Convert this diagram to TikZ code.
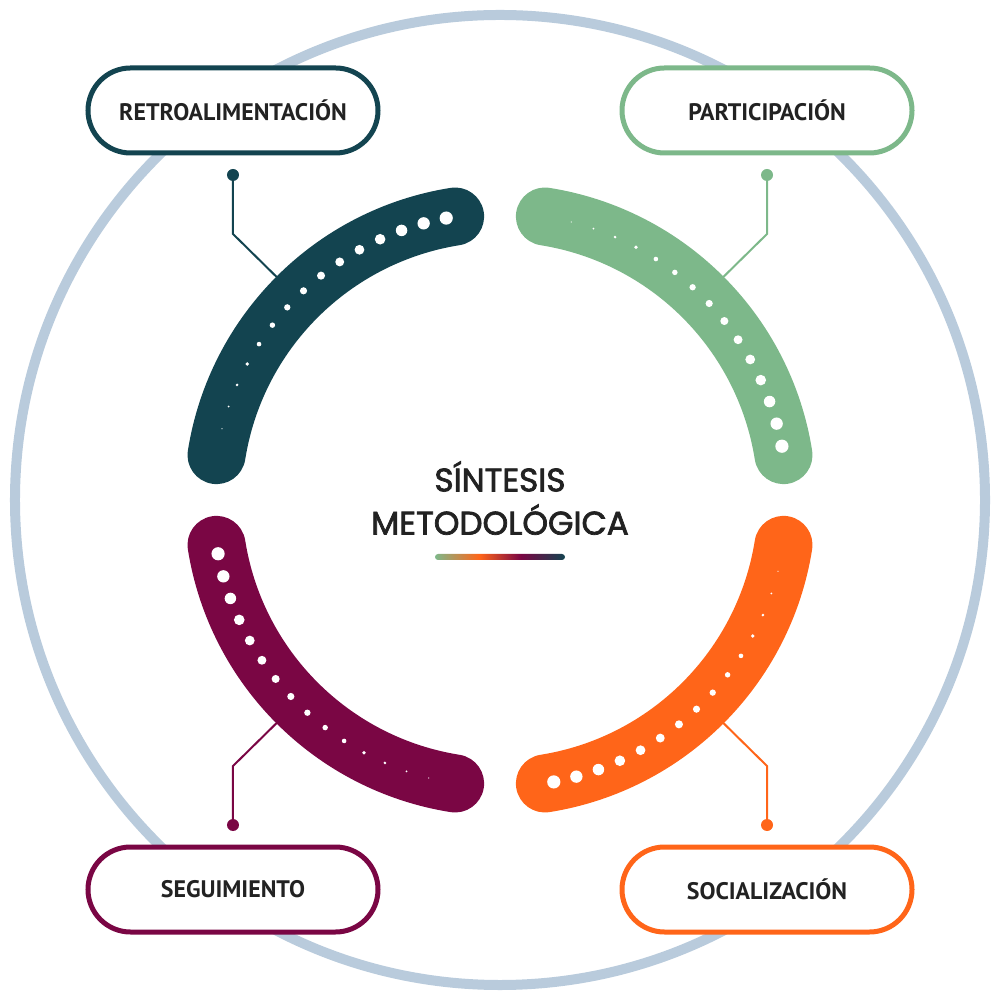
\documentclass[tikz,border=0pt]{standalone}
\usepackage{fontspec}
\setmainfont{PT Sans}
\newfontfamily\titlefont{Poppins}[RawFeature={embolden=2.2}]
\definecolor{ringblue}{HTML}{B9CBDC}
\definecolor{retrocol}{HTML}{134450}
\definecolor{particol}{HTML}{7DB88A}
\definecolor{socialcol}{HTML}{FF6519}
\definecolor{seguicol}{HTML}{7A0644}
\definecolor{labeltext}{HTML}{222222}
\pgfdeclarehorizontalshading{barshade}{100bp}{color(0bp)=(particol); color(25bp)=(particol); color(42bp)=(socialcol); color(58bp)=(seguicol); color(75bp)=(retrocol); color(100bp)=(retrocol)}
\tikzset{
  pill/.style={draw=#1, line width=0.05cm, fill=white, rounded corners=0.425cm,
    minimum width=2.9cm, minimum height=0.85cm, text=labeltext,
    font=\bfseries\fontsize{6.8pt}{8pt}\selectfont},
  pin/.style={draw=#1, line width=0.02cm},
}
\begin{document}
\begin{tikzpicture}
\useasboundingbox (-5,-5) rectangle (5,5);

\draw[ringblue, line width=0.1cm] (0,0) circle (4.85);

\node[pill=retrocol] (retro) at (-2.67, 3.895) {RETROALIMENTACIÓN};
\node[pill=particol] (partic) at (2.67, 3.895) {PARTICIPACIÓN};
\node[pill=socialcol] (social) at (2.67, -3.895) {SOCIALIZACIÓN};
\node[pill=seguicol] (segui) at (-2.67, -3.895) {SEGUIMIENTO};

\coordinate (retro-pin) at (-2.67, 3.25);
\coordinate (partic-pin) at (2.67, 3.25);
\coordinate (social-pin) at (2.67, -3.25);
\coordinate (segui-pin) at (-2.67, -3.25);
\coordinate (retro-end) at (135:2.87);
\coordinate (partic-end) at (45:2.87);
\coordinate (social-end) at (-45:2.87);
\coordinate (segui-end) at (-135:2.87);

\draw[pin=retrocol] (retro-pin) -- ++(0,-0.59) -- (retro-end);
\fill[retrocol] (retro-pin) circle (0.06);
\draw[pin=particol] (partic-pin) -- ++(0,-0.59) -- (partic-end);
\fill[particol] (partic-pin) circle (0.06);
\draw[pin=socialcol] (social-pin) -- ++(0,0.59) -- (social-end);
\fill[socialcol] (social-pin) circle (0.06);
\draw[pin=seguicol] (segui-pin) -- ++(0,0.59) -- (segui-end);
\fill[seguicol] (segui-pin) circle (0.06);

\foreach \q/\c in {0/retrocol, 90/particol, 180/socialcol, 270/seguicol} {
  \draw[\c, line width=0.58cm, line cap=round] (99-\q:2.87) arc[start angle=99-\q, end angle=171-\q, radius=2.87];
  \foreach \k in {0,...,14} {
    \fill[white] ({100.8+\k*4.63-\q}:2.87) circle ({0.066-0.0043*\k});
  }
}

\node[text=labeltext, font=\titlefont\fontsize{9.3pt}{10pt}\selectfont, align=center] (title) at (0,0.02) {SÍNTESIS\\[0.08cm]METODOLÓGICA};
\shade[shading=barshade, rounded corners=0.03cm] (-0.65,-0.6) rectangle (0.65,-0.54);

\end{tikzpicture}
\end{document}
